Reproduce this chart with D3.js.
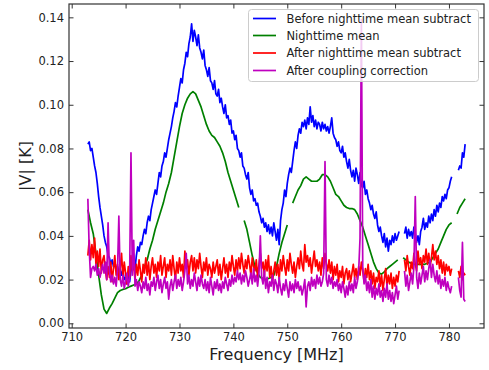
<!DOCTYPE html>
<html>
<head>
<meta charset="utf-8">
<script src="https://cdn.jsdelivr.net/npm/d3@7"></script>
<style>
  body { margin: 0; background: #fff; }
  svg { font-family: "DejaVu Sans", sans-serif; }
</style>
</head>
<body>
<svg id="chart" width="489" height="370"></svg>
<script>
// frequency grids (MHz)
const freqFine = d3.range(0, 281).map(i => 713 + i * 0.25);
const freqCoarse = d3.range(0, 141).map(i => 713 + i * 0.5);

const seriesNames = ["Before nighttime mean subtract", "Nighttime mean", "After nighttime mean subtract", "After coupling correction"];
const xTicks = [710, 720, 730, 740, 750, 760, 770, 780];
const yTicks = [0.00, 0.02, 0.04, 0.06, 0.08, 0.10, 0.12, 0.14];

// before nighttime mean subtract, 0.25 MHz steps
const before = [
  0.082, 0.083, 0.079, 0.080, 0.076, 0.072, 0.069, 0.064, 0.058, 0.053, 0.049, 0.045,
  0.040, 0.037, 0.035, 0.031, 0.030, 0.027, 0.029, 0.026, 0.027, 0.024, 0.026, 0.023,
  0.025, 0.022, 0.024, 0.020, 0.021, 0.018, 0.022, 0.019, 0.024, 0.027, 0.029, 0.025,
  0.031, 0.035, 0.033, 0.037, 0.036, 0.040, 0.043, 0.041, 0.046, 0.049, 0.047, 0.052,
  0.055, 0.058, 0.061, 0.059, 0.064, 0.069, 0.067, 0.072, 0.074, 0.078, 0.076, 0.080,
  0.084, 0.087, 0.090, 0.094, 0.097, 0.101, 0.099, 0.104, 0.108, 0.112, 0.110, 0.116,
  0.119, 0.124, 0.122, 0.128, 0.131, 0.137, 0.129, 0.134, 0.131, 0.127, 0.132, 0.126,
  0.124, 0.121, 0.125, 0.118, 0.116, 0.113, 0.117, 0.111, 0.110, 0.107, 0.111, 0.105,
  0.104, 0.107, 0.101, 0.103, 0.099, 0.096, 0.100, 0.094, 0.095, 0.091, 0.093, 0.087,
  0.088, 0.084, 0.086, 0.080, 0.079, 0.076, 0.078, 0.072, 0.071, 0.068, 0.066, 0.069,
  0.062, 0.059, 0.061, 0.056, 0.057, 0.054, 0.055, 0.051, 0.049, 0.046, 0.048, 0.044,
  0.046, 0.042, 0.045, 0.041, 0.044, 0.040, 0.046, 0.042, 0.038, 0.043, 0.036, 0.047,
  0.052, 0.055, 0.061, 0.058, 0.064, 0.068, 0.071, 0.069, 0.074, 0.079, 0.083, 0.080,
  0.086, 0.089, 0.087, 0.092, 0.090, 0.093, 0.089, 0.094, 0.091, 0.099, 0.092, 0.095,
  0.090, 0.093, 0.089, 0.092, 0.091, 0.088, 0.092, 0.089, 0.091, 0.088, 0.090, 0.087,
  0.090, 0.094, 0.087, 0.085, 0.084, 0.081, 0.083, 0.079, 0.078, 0.081, 0.076, 0.078,
  0.074, 0.071, 0.075, 0.070, 0.067, 0.070, 0.065, 0.071, 0.068, 0.064, 0.069, 0.063,
  0.062, 0.065, 0.059, 0.061, 0.057, 0.055, 0.052, 0.054, 0.050, 0.048, 0.051, 0.045,
  0.042, 0.044, 0.040, 0.037, 0.041, 0.035, 0.039, 0.033, 0.038, 0.036, 0.040, 0.037,
  0.041, 0.038, 0.040, 0.042, null, null, null, 0.041, 0.044, 0.039, 0.043, 0.040,
  0.042, 0.039, 0.044, 0.041, 0.037, 0.040, 0.036, 0.042, 0.044, 0.048, 0.043, 0.046,
  0.044, 0.049, 0.046, 0.050, 0.047, 0.052, 0.049, 0.054, 0.051, 0.055, 0.053, 0.058,
  0.056, 0.059, 0.057, 0.061, 0.062, 0.065, 0.067, null, null, null, null, 0.070,
  0.072, 0.071, 0.078, 0.076, 0.082
];

// nighttime mean, 0.5 MHz steps
const nightMean = [
  0.052, 0.046, 0.041, 0.032, 0.022, 0.013, 0.0065, 0.0045, 0.007, 0.009,
  0.0115, 0.014, 0.015, 0.0155, 0.0158, 0.0165, 0.017, 0.0175, 0.018, 0.0195,
  0.022, 0.026, 0.029, 0.034, 0.038, 0.043, 0.047, 0.051, 0.055, 0.060,
  0.064, 0.069, 0.076, 0.083, 0.090, 0.096, 0.100, 0.103, 0.105, 0.106,
  0.105, 0.102, 0.099, 0.095, 0.091, 0.088, 0.086, 0.085, 0.083, 0.081,
  0.078, 0.074, 0.069, 0.065, 0.061, 0.057, 0.053, null, 0.047, 0.043,
  0.037, 0.031, 0.026, 0.023, 0.021, 0.0205, 0.020, 0.0205, 0.021, 0.022,
  0.026, 0.032, 0.037, 0.041, 0.045, null, 0.055, 0.058, 0.061, 0.063,
  0.066, 0.067, 0.066, 0.065, 0.065, 0.065, 0.066, 0.068, 0.068, 0.067,
  0.065, 0.062, 0.059, 0.058, 0.056, 0.054, 0.053, 0.0525, 0.0525, 0.052,
  0.050, 0.047, 0.044, 0.040, 0.036, 0.032, 0.028, 0.025, 0.023, 0.0225,
  0.0235, 0.025, 0.026, 0.027, 0.028, 0.029, null, 0.030, 0.029, 0.028,
  0.0275, 0.027, 0.027, 0.027, 0.027, 0.027, 0.0275, 0.028, 0.030, 0.032,
  0.034, 0.037, 0.040, 0.043, 0.045, 0.046, null, 0.050, 0.053, 0.055,
  0.057
];

// after nighttime mean subtract, 0.25 MHz steps
const afterSub = [
  0.031, 0.038, 0.029, 0.036, 0.030, 0.039, 0.027, 0.033, 0.026, 0.034, 0.023, 0.029,
  0.031, 0.024, 0.020, 0.026, 0.021, 0.028, 0.019, 0.025, 0.031, 0.022, 0.027, 0.020,
  0.025, 0.032, 0.021, 0.028, 0.023, 0.018, 0.026, 0.021, 0.031, 0.024, 0.028, 0.020,
  0.027, 0.022, 0.029, 0.024, 0.019, 0.027, 0.023, 0.030, 0.022, 0.028, 0.020, 0.026,
  0.030, 0.023, 0.027, 0.021, 0.028, 0.024, 0.031, 0.022, 0.026, 0.030, 0.021, 0.027,
  0.024, 0.029, 0.022, 0.031, 0.025, 0.020, 0.028, 0.023, 0.030, 0.024, 0.027, 0.021,
  0.033, 0.025, 0.029, 0.022, 0.028, 0.031, 0.024, 0.030, 0.023, 0.029, 0.025, 0.032,
  0.026, 0.021, 0.028, 0.024, 0.030, 0.022, 0.027, 0.025, 0.021, 0.028, 0.023, 0.026,
  0.029, 0.022, 0.027, 0.020, 0.025, 0.030, 0.023, 0.027, 0.021, 0.028, 0.024, 0.031,
  0.026, 0.022, 0.029, 0.024, 0.030, 0.025, 0.032, 0.027, 0.023, 0.029, 0.025, 0.031,
  0.027, 0.022, 0.030, 0.026, 0.024, 0.029, 0.021, 0.027, 0.032, 0.025, 0.028, 0.022,
  0.029, 0.024, 0.031, 0.021, 0.026, 0.019, 0.024, 0.028, 0.022, 0.027, 0.020, 0.029,
  0.024, 0.031, 0.026, 0.022, 0.029, 0.024, 0.032, 0.027, 0.023, 0.028, 0.021, 0.026,
  0.030, 0.025, 0.033, 0.027, 0.024, 0.036, 0.028, 0.031, 0.026, 0.030, 0.023, 0.028,
  0.033, 0.026, 0.029, 0.024, 0.028, 0.022, 0.030, 0.025, 0.032, 0.027, 0.024, 0.029,
  0.023, 0.028, 0.020, 0.026, 0.022, 0.027, 0.019, 0.024, 0.021, 0.026, 0.018, 0.023,
  0.025, 0.020, 0.024, 0.019, 0.023, 0.027, 0.021, 0.025, 0.020, 0.026, 0.022, 0.028,
  0.024, 0.019, 0.025, 0.021, 0.027, 0.020, 0.024, 0.018, 0.023, 0.016, 0.021, 0.019,
  0.024, 0.017, 0.022, 0.015, 0.020, 0.025, 0.017, 0.022, 0.018, 0.023, 0.016, 0.021,
  0.017, 0.022, 0.019, 0.024, null, null, null, 0.029, 0.024, 0.031, 0.026, 0.022,
  0.028, 0.025, 0.032, 0.027, 0.024, 0.033, 0.027, 0.030, 0.025, 0.031, 0.028, 0.034,
  0.027, 0.032, 0.026, 0.030, 0.036, 0.029, 0.033, 0.027, 0.031, 0.025, 0.029, 0.023,
  0.028, 0.022, 0.027, 0.024, 0.026, 0.022, 0.025, null, null, null, null, 0.024,
  0.021, 0.026, 0.020, 0.023, 0.022
];

// after coupling correction, 0.25 MHz steps
const afterCoupling = [
  0.057, 0.034, 0.021, 0.025, 0.026, 0.024, 0.027, 0.022, 0.025, 0.021, 0.024, 0.027,
  0.023, 0.028, 0.020, 0.046, 0.024, 0.019, 0.022, 0.018, 0.021, 0.017, 0.024, 0.049,
  0.020, 0.017, 0.022, 0.016, 0.019, 0.023, 0.017, 0.021, 0.078, 0.022, 0.038, 0.017,
  0.020, 0.015, 0.019, 0.017, 0.014, 0.019, 0.016, 0.021, 0.015, 0.018, 0.013, 0.019,
  0.017, 0.021, 0.015, 0.019, 0.022, 0.016, 0.020, 0.014, 0.018, 0.021, 0.016, 0.019,
  0.011, 0.017, 0.020, 0.015, 0.019, 0.022, 0.016, 0.020, 0.017, 0.021, 0.015, 0.019,
  0.024, 0.032, 0.018, 0.022, 0.016, 0.020, 0.017, 0.023, 0.019, 0.015, 0.021, 0.017,
  0.022, 0.018, 0.016, 0.020, 0.015, 0.019, 0.014, 0.021, 0.017, 0.013, 0.019, 0.016,
  0.020, 0.015, 0.018, 0.014, 0.019, 0.016, 0.021, 0.018, 0.015, 0.020, 0.017, 0.022,
  0.018, 0.021, 0.019, 0.024, 0.020, 0.023, 0.018, 0.022, 0.019, 0.024, 0.021, 0.017,
  0.020, 0.023, 0.018, 0.025, 0.019, 0.022, 0.017, 0.023, 0.040, 0.021, 0.018, 0.024,
  0.016, 0.021, 0.014, 0.019, 0.017, 0.022, 0.015, 0.020, 0.018, 0.014, 0.021, 0.016,
  0.013, 0.018, 0.015, 0.020, 0.016, 0.012, 0.019, 0.015, 0.018, 0.014, 0.020, 0.016,
  0.019, 0.015, 0.017, 0.013, 0.016, 0.020, 0.0075, 0.017, 0.019, 0.015, 0.021, 0.017,
  0.020, 0.016, 0.022, 0.018, 0.021, 0.017, 0.019, 0.023, 0.074, 0.020, 0.017, 0.022,
  0.018, 0.021, 0.016, 0.019, 0.017, 0.020, 0.015, 0.018, 0.014, 0.019, 0.016, 0.012,
  0.017, 0.013, 0.019, 0.015, 0.018, 0.014, 0.021, 0.016, 0.019, 0.024, 0.039, 0.139,
  0.026, 0.018, 0.022, 0.015, 0.019, 0.014, 0.020, 0.012, 0.017, 0.011, 0.016, 0.013,
  0.018, 0.012, 0.015, 0.010, 0.016, 0.012, 0.018, 0.011, 0.015, 0.010, 0.014, 0.009,
  0.013, 0.017, 0.011, 0.015, null, null, null, 0.024, 0.017, 0.022, 0.015, 0.019,
  0.023, 0.018, 0.026, 0.058, 0.021, 0.016, 0.023, 0.018, 0.022, 0.026, 0.019, 0.024,
  0.020, 0.025, 0.029, 0.021, 0.027, 0.022, 0.019, 0.024, 0.018, 0.022, 0.016, 0.020,
  0.017, 0.021, 0.015, 0.019, 0.016, 0.014, 0.017, null, null, null, null, 0.021,
  0.015, 0.012, 0.037, 0.011, 0.010
];

const colors = ["#0000ff", "#008000", "#ff0000", "#bf00bf"];

function draw() {
  const svg = d3.select("#chart");
  const left = 69, right = 484, top = 4, bottom = 328;

  const xs = d3.scaleLinear().domain([709.5, 786.5]).range([left, right]);
  const ys = d3.scaleLinear().domain([-0.00215, 0.1461]).range([bottom, top]);

  svg.append("defs").append("clipPath").attr("id", "plotclip")
     .append("rect").attr("x", left).attr("y", top).attr("width", right - left).attr("height", bottom - top);

  const series = [
    { x: freqFine, y: before },
    { x: freqCoarse, y: nightMean },
    { x: freqFine, y: afterSub },
    { x: freqFine, y: afterCoupling }
  ];

  const line = d3.line()
      .defined(d => d[1] != null)
      .x(d => xs(d[0]))
      .y(d => ys(d[1]));

  const lineGrp = svg.append("g").attr("clip-path", "url(#plotclip)");
  series.forEach((s, i) => {
    const pts = s.x.map((f, j) => [f, s.y[j]]);
    lineGrp.append("path").attr("d", line(pts))
           .attr("fill", "none").attr("stroke", colors[i])
           .attr("stroke-width", 1.7).attr("stroke-linejoin", "round");
  });

  // axes, ticks pointing inwards
  const tickLen = 4.5;
  const gx = svg.append("g").attr("transform", `translate(0, ${bottom})`)
     .call(d3.axisBottom(xs).tickValues(xTicks).tickFormat(d3.format("d")).tickSizeInner(-tickLen).tickSizeOuter(0).tickPadding(5));
  const gy = svg.append("g").attr("transform", `translate(${left}, 0)`)
     .call(d3.axisLeft(ys).tickValues(yTicks).tickFormat(d3.format(".2f")).tickSizeInner(-tickLen).tickSizeOuter(0).tickPadding(5));
  const gt = svg.append("g").attr("transform", `translate(0, ${top})`)
     .call(d3.axisTop(xs).tickValues(xTicks).tickFormat("").tickSizeInner(-tickLen).tickSizeOuter(0));
  const gr = svg.append("g").attr("transform", `translate(${right}, 0)`)
     .call(d3.axisRight(ys).tickValues(yTicks).tickFormat("").tickSizeInner(-tickLen).tickSizeOuter(0));

  [gx, gy, gt, gr].forEach(g => {
    g.select(".domain").remove();
    g.selectAll(".tick line").attr("stroke", "#333").attr("stroke-width", 1);
    g.selectAll(".tick text").attr("fill", "#222").style("font-size", "11.5px").style("font-family", "DejaVu Sans");
  });

  svg.append("rect").attr("x", left).attr("y", top)
     .attr("width", right - left).attr("height", bottom - top)
     .attr("fill", "none").attr("stroke", "#333").attr("stroke-width", 1.2);

  svg.append("text").attr("x", (left + right) / 2).attr("y", 360)
     .attr("text-anchor", "middle").style("font-size", "16px").attr("fill", "#222")
     .text("Frequency [MHz]");
  svg.append("text").attr("transform", `translate(31, ${(top + bottom) / 2}) rotate(-90)`)
     .attr("text-anchor", "middle").style("font-size", "16px").attr("fill", "#222")
     .text("|V| [K]");

  // legend
  const leg = svg.append("g");
  leg.append("rect").attr("x", 248.5).attr("y", 9.5).attr("width", 230).attr("height", 72)
     .attr("rx", 3).attr("fill", "#fff").attr("fill-opacity", 0.8)
     .attr("stroke", "#ccc").attr("stroke-width", 1);
  const rowY = [18.5, 35.5, 53, 70.5];
  seriesNames.forEach((name, i) => {
    leg.append("line").attr("x1", 253).attr("x2", 276).attr("y1", rowY[i]).attr("y2", rowY[i])
       .attr("stroke", colors[i]).attr("stroke-width", 1.7);
    leg.append("text").attr("x", 286.5).attr("y", rowY[i]).attr("dy", "0.36em")
       .style("font-size", "11.5px").attr("fill", "#222").text(name);
  });
}

draw();
</script>
</body>
</html>
